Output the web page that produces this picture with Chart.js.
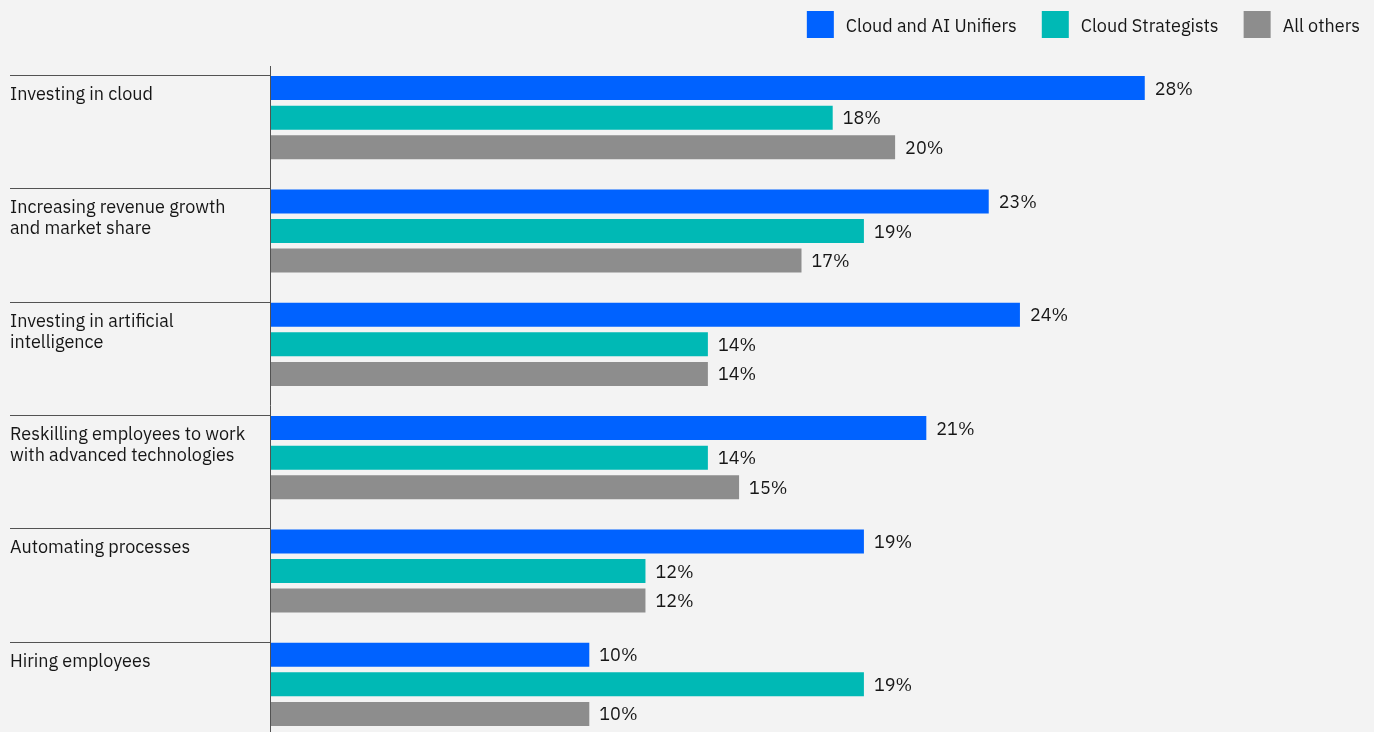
<!DOCTYPE html>
<html>
<head>
<meta charset="utf-8">
<script src="https://cdn.jsdelivr.net/npm/chart.js@4.4.1/dist/chart.umd.min.js"></script>
<style>
  html, body { margin: 0; padding: 0; background: #f3f3f3; overflow: hidden; }
  #wrap { position: relative; width: 1374px; height: 745px; }
</style>
</head>
<body>
<div id="wrap"><canvas id="chart"></canvas></div>
<script>
// Category labels (one entry per line of text)
const categories = [
  ['Investing in cloud'],
  ['Increasing revenue growth', 'and market share'],
  ['Investing in artificial', 'intelligence'],
  ['Reskilling employees to work', 'with advanced technologies'],
  ['Automating processes'],
  ['Hiring employees']
];
const seriesNames = ['Cloud and AI Unifiers', 'Cloud Strategists', 'All others'];

// Percent values
const unifiers = [28, 23, 24, 21, 19, 10.2];
const strategists = [18, 19, 14, 14, 12, 19];
const others = [20, 17, 14, 15, 12, 10.2];

const colors = ['#0062ff', '#00b9b5', '#8d8d8d'];
const FONT = '18px "IBM Plex Sans", "Liberation Sans", Arial, sans-serif';
const TEXT = '#161616';
const RULE = '#525252';

// Draws category labels, separators, axis line, value labels and legend
const annotate = {
  id: 'annotate',
  afterDatasetsDraw(chart) {
    const { ctx, chartArea } = chart;
    ctx.save();
    ctx.font = FONT;
    ctx.fillStyle = TEXT;
    ctx.textAlign = 'left';
    ctx.textBaseline = 'alphabetic';
    ctx.strokeStyle = RULE;
    ctx.lineWidth = 1;

    // vertical axis line
    const ax = chartArea.left - 0.5;
    ctx.beginPath();
    ctx.moveTo(ax, 66);
    ctx.lineTo(ax, chart.height);
    ctx.stroke();

    // separators + category text, anchored to the top of each group's first bar
    chart.getDatasetMeta(0).data.forEach((bar, i) => {
      const top = Math.round(bar.y - bar.height / 2) - 0.5;
      ctx.beginPath();
      ctx.moveTo(10, top);
      ctx.lineTo(ax, top);
      ctx.stroke();
      categories[i].forEach((line, j) => {
        ctx.fillText(line, 10, top + 24.5 + j * 21);
      });
    });

    // value labels
    chart.data.datasets.forEach((ds, d) => {
      chart.getDatasetMeta(d).data.forEach((bar, i) => {
        ctx.fillText(Math.round(ds.data[i]) + '%', bar.x + 10, bar.y + 6.5);
      });
    });

    // legend, right aligned
    let x = chart.width - 14;
    for (let d = chart.data.datasets.length - 1; d >= 0; d--) {
      const ds = chart.data.datasets[d];
      const w = ctx.measureText(ds.label).width;
      ctx.fillStyle = TEXT;
      ctx.fillText(ds.label, x - w, 31.5);
      const bx = x - w - 12 - 27;
      ctx.fillStyle = ds.backgroundColor;
      ctx.fillRect(bx, 11, 27, 27);
      x = bx - 25;
    }
    ctx.restore();
  }
};

const ctx = document.getElementById('chart').getContext('2d');
new Chart(ctx, {
  type: 'bar',
  data: {
    labels: categories,
    datasets: [
      { label: seriesNames[0], data: unifiers, backgroundColor: colors[0] },
      { label: seriesNames[1], data: strategists, backgroundColor: colors[1] },
      { label: seriesNames[2], data: others, backgroundColor: colors[2] }
    ]
  },
  options: {
    indexAxis: 'y',
    responsive: true,
    maintainAspectRatio: false,
    animation: false,
    layout: { padding: { top: 61, left: 271, right: 3, bottom: 4 } },
    datasets: { bar: { categoryPercentage: 0.783, barPercentage: 0.81 } },
    scales: {
      x: { display: false, min: 0, max: 35.25 },
      y: { display: false }
    },
    plugins: {
      legend: { display: false },
      tooltip: { enabled: false }
    }
  },
  plugins: [annotate]
});
</script>
</body>
</html>
